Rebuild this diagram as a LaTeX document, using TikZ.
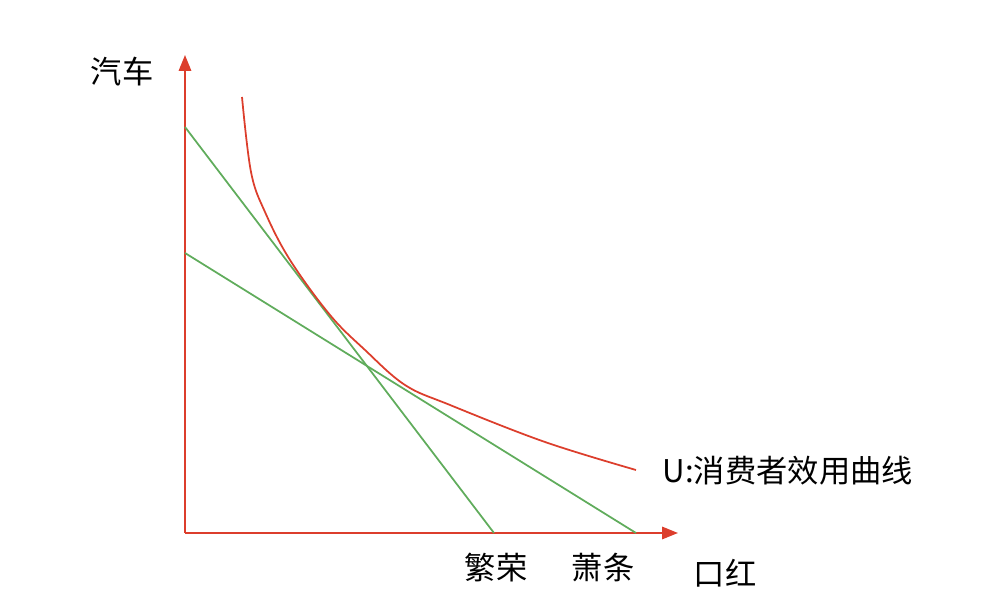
\documentclass[tikz,border=0pt]{standalone}
\usepackage{fontspec}
\setmainfont{Noto Sans CJK SC}
\usetikzlibrary{arrows.meta,positioning}
\definecolor{AxisRed}{RGB}{220,62,44}
\definecolor{BudgetGreen}{RGB}{96,172,92}

\begin{document}
\begin{tikzpicture}[>={Triangle[length=9pt,width=7pt]},line width=1.1pt,
  lbl/.style={font=\fontsize{17.8}{20}\selectfont,inner sep=1pt},
  budget/.style={BudgetGreen,line width=1pt}]
\useasboundingbox (0,0) rectangle (19.68,11.84);
\coordinate (O) at (3.70,1.18);
\coordinate (ytop) at (3.70,10.74);
\coordinate (xend) at (13.56,1.18);
% axes
\draw[->,AxisRed] (O)--(ytop);
\draw[->,AxisRed] (O)--(xend);
\node[lbl] (car) at (2.44,10.40) {汽车};
\node[lbl] (lip) at (14.50,0.38) {口红};
% budget lines
\coordinate (b1) at (3.70,9.30);
\coordinate (boom) at (9.88,1.18);
\coordinate (b2) at (3.70,6.78);
\coordinate (bust) at (12.72,1.18);
\draw[budget] (b1)--(boom);
\draw[budget] (b2)--(bust);
\node[lbl] (boomlbl) at (9.92,0.48) {繁荣};
\node[lbl] (bustlbl) at (12.06,0.48) {萧条};
% utility curve
\coordinate (uend) at (12.72,2.44);
\node[lbl,anchor=west] (ulbl) at (13.20,2.42) {U:消费者效用曲线};
\draw[AxisRed,line width=1pt] plot[smooth,tension=0.6] coordinates {(4.84,9.90) (5.02,8.40) (5.30,7.60) (5.80,6.64) (6.60,5.54) (7.30,4.84) (8.10,4.14) (9.00,3.74) (10.90,3.00) (uend)};
\end{tikzpicture}
\end{document}
